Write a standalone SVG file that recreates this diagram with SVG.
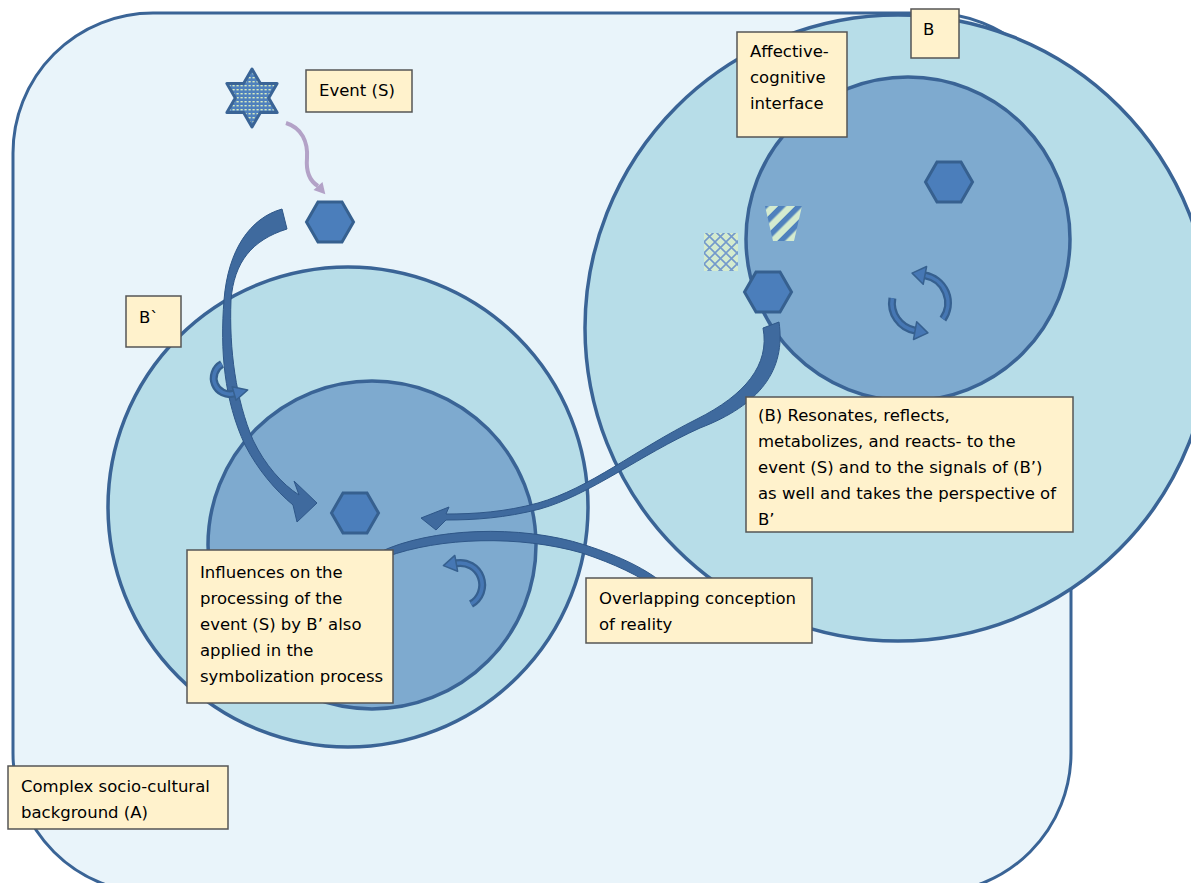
<svg xmlns="http://www.w3.org/2000/svg" width="1191" height="883" viewBox="0 0 1191 883">
<style>
.bg{fill:#E9F4FA;stroke:#3A6496;stroke-width:3}
.outer{fill:#B7DDE8;stroke:#3A6496;stroke-width:3.5}
.inner{fill:#7EAACF;stroke:#3A6496;stroke-width:3.5}
.hex{fill:#4B7EBB;stroke:#36608F;stroke-width:3}
.box{fill:#FFF2CC;stroke:#555555;stroke-width:1.5}
.txt{font-family:"DejaVu Sans",Verdana,sans-serif;font-size:16.5px;fill:#000}
.blk{fill:#3F6A9E;stroke:#2F5788;stroke-width:1}
.arc-o{fill:none;stroke:#36608F;stroke-width:8}
.arc-i{fill:none;stroke:#4677B4;stroke-width:3.5}
.ahead{fill:#4677B4;stroke:#36608F;stroke-width:1.5;stroke-linejoin:round}
</style>
<defs>
<pattern id="dots" width="4" height="4" patternUnits="userSpaceOnUse">
<rect width="4" height="4" fill="#4F81BD"/>
<rect x="0.5" y="1" width="2.2" height="1.4" fill="#D8ECC0"/>
</pattern>
<pattern id="cross" width="11" height="11" patternUnits="userSpaceOnUse">
<rect width="11" height="11" fill="#D4EBCF"/>
<path d="M0,0 L11,11 M11,0 L0,11" stroke="#7399CC" stroke-width="1.6"/>
</pattern>
<pattern id="stripe" width="12" height="12" patternUnits="userSpaceOnUse" patternTransform="rotate(45)">
<rect width="12" height="12" fill="#D4EBCF"/>
<rect width="5.5" height="12" fill="#4F81BD"/>
</pattern>
<path id="hexshape" d="M-23.5,0 L-12,-20 L12,-20 L23.5,0 L12,20 L-12,20 Z"/>
</defs>

<g id="background-A">
<rect class="bg" x="13" y="13" width="1058" height="880" rx="140" ry="140"/>
</g>

<g id="circle-B">
<circle class="outer" cx="898" cy="328" r="313"/>
<circle class="inner" cx="908" cy="239" r="162"/>
</g>

<g id="circle-Bprime">
<circle class="outer" cx="348" cy="507" r="240"/>
<circle class="inner" cx="372" cy="545" r="164"/>
</g>

<g id="event-star">
<polygon points="252,69 260.4,83.5 277.1,83.5 268.7,98 277.1,112.5 260.4,112.5 252,127 243.6,112.5 226.9,112.5 235.3,98 226.9,83.5 243.6,83.5" fill="url(#dots)" stroke="#3A6496" stroke-width="3" stroke-linejoin="round"/>
</g>

<g id="hexagons">
<use href="#hexshape" class="hex" transform="translate(330,222)"/>
<use href="#hexshape" class="hex" transform="translate(355,513)"/>
<use href="#hexshape" class="hex" transform="translate(949,182)"/>
</g>

<g id="pattern-shapes">
<rect x="704" y="233" width="34" height="38" fill="url(#cross)"/>
<polygon points="765,206 802,206 794,241 773,241" fill="url(#stripe)"/>
</g>

<g id="connectors">
<path d="M286,123 C302,128 308,142 307,158 C306,170 308,180 318,186" fill="none" stroke="#B3A2C7" stroke-width="4"/>
<polygon points="325.3,194.3 313.5,190 322.5,182" fill="#B3A2C7"/>

<path class="blk" d="M380,552 C430,528 520,524 585,545 C622,557 646,569 667,586 L659,590 C640,576 615,564 582,553 C520,535 440,537 386,557 Z"/>

<path class="blk" d="M282,209 C250,218 228,250 224,300 C220,350 224,400 245,445 C258,470 275,490 293,505 L297,522 L317,503 L294,481 L299,495 C282,484 265,465 253,440 C236,400 229,350 231,300 C234,262 252,240 287,229 Z"/>

<path class="blk" d="M779,322 C786,370 760,405 700,428 C640,455 590,495 540,509 C505,518 475,520 446,520 L436,530 L421,518 L449,507 L446,514 C475,514 505,512 538,503 C590,488 635,450 697,419 C745,395 770,365 763,328 Z"/>

<path class="arc-o" d="M942.9,319.1 A28,28 0 0 0 924.9,275.4"/>
<path class="arc-i" d="M942.9,319.1 A28,28 0 0 0 924.9,275.4"/>
<polygon class="ahead" points="912.1,273.1 926.6,266.5 923.2,284.3"/>
<path class="arc-o" d="M892.4,298.1 A28,28 0 0 0 915.1,330.6"/>
<path class="arc-i" d="M892.4,298.1 A28,28 0 0 0 915.1,330.6"/>
<polygon class="ahead" points="927.9,332.9 913.5,339.5 916.7,321.7"/>

<path class="arc-o" d="M222,364.1 A16,16 0 0 0 234.1,393.5"/>
<path class="arc-i" d="M222,364.1 A16,16 0 0 0 234.1,393.5"/>
<polygon class="ahead" points="247.7,389.9 236,400.3 232.2,386.7"/>

<path class="arc-o" d="M471,604.1 A22,22 0 0 0 456.2,563.3"/>
<path class="arc-i" d="M471,604.1 A22,22 0 0 0 456.2,563.3"/>
<polygon class="ahead" points="443.4,565.6 457.6,571.2 454.8,555.4"/>
</g>

<g id="hex-B-left">
<use href="#hexshape" class="hex" transform="translate(768,292)"/>
</g>

<g id="label-event">
<rect class="box" x="306" y="70" width="106" height="42"/>
<text class="txt" x="319" y="96">Event (S)</text>
</g>

<g id="label-B">
<rect class="box" x="911" y="9" width="48" height="49"/>
<text class="txt" x="923" y="35">B</text>
</g>

<g id="label-Bprime">
<rect class="box" x="126" y="296" width="55" height="51"/>
<text class="txt" x="139" y="323">B`</text>
</g>

<g id="label-affective">
<rect class="box" x="737" y="32" width="110" height="105"/>
<text class="txt" x="750" y="57">Affective-</text>
<text class="txt" x="750" y="83">cognitive</text>
<text class="txt" x="750" y="109">interface</text>
</g>

<g id="label-resonates">
<rect class="box" x="746" y="397" width="327" height="135"/>
<text class="txt" x="758" y="421">(B) Resonates, reflects,</text>
<text class="txt" x="758" y="447">metabolizes, and reacts- to the</text>
<text class="txt" x="758" y="473">event (S) and to the signals of (B’)</text>
<text class="txt" x="758" y="499">as well and takes the perspective of</text>
<text class="txt" x="758" y="525">B’</text>
</g>

<g id="label-influences">
<rect class="box" x="187" y="550" width="206" height="153"/>
<text class="txt" x="200" y="578">Influences on the</text>
<text class="txt" x="200" y="604">processing of the</text>
<text class="txt" x="200" y="630">event (S) by B’ also</text>
<text class="txt" x="200" y="656">applied in the</text>
<text class="txt" x="200" y="682">symbolization process</text>
</g>

<g id="label-overlapping">
<rect class="box" x="586" y="578" width="226" height="65"/>
<text class="txt" x="599" y="604">Overlapping conception</text>
<text class="txt" x="599" y="630">of reality</text>
</g>

<g id="label-complex">
<rect class="box" x="8" y="766" width="220" height="63"/>
<text class="txt" x="21" y="792">Complex socio-cultural</text>
<text class="txt" x="21" y="818">background (A)</text>
</g>
</svg>
